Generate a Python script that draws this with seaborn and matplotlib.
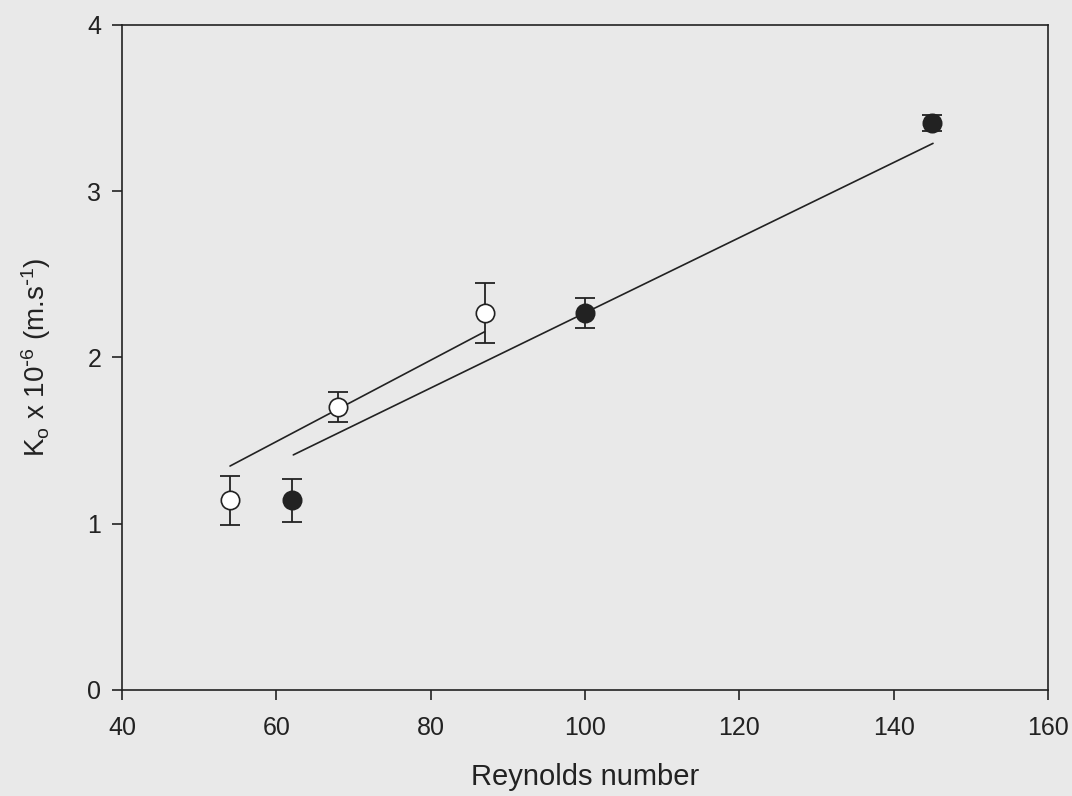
import numpy as np
import matplotlib
matplotlib.use("Agg")
import matplotlib.pyplot as plt
import seaborn as sns
import pandas as pd

# open circles
open_re = [54, 68, 87]
open_k = [1.14, 1.70, 2.27]
open_err = [0.15, 0.09, 0.18]
open_fit_re = [54, 87]
open_fit_k = [1.347, 2.155]

# filled circles
filled_re = [62, 100, 145]
filled_k = [1.14, 2.27, 3.41]
filled_err = [0.13, 0.09, 0.05]
filled_fit_re = [62.2, 145.1]
filled_fit_k = [1.414, 3.288]

xticks = [40, 60, 80, 100, 120, 140, 160]
yticks = [0, 1, 2, 3, 4]

sns.set_style("ticks")
bg = "#e9e9e9"
ink = "#222222"
plt.rcParams['font.family'] = ['Liberation Sans', 'DejaVu Sans']
plt.rcParams['mathtext.default'] = 'regular'

fig, ax = plt.subplots(figsize=(10.72, 7.96), dpi=100)
fig.patch.set_facecolor(bg)
ax.set_facecolor(bg)
fig.subplots_adjust(left=0.1138, right=0.9776, top=0.9686, bottom=0.1332)

fits = pd.DataFrame({
    're': open_fit_re + filled_fit_re,
    'k': open_fit_k + filled_fit_k,
    'group': ['open', 'open', 'filled', 'filled'],
})
sns.lineplot(data=fits, x='re', y='k', units='group', estimator=None,
             color=ink, linewidth=1.2, ax=ax, legend=False)

ax.errorbar(open_re, open_k, yerr=open_err, fmt='none', ecolor=ink,
            elinewidth=1.3, capsize=7, capthick=1.3, zorder=2)
ax.errorbar(filled_re, filled_k, yerr=filled_err, fmt='none', ecolor=ink,
            elinewidth=1.3, capsize=7, capthick=1.3, zorder=2)

sns.scatterplot(x=open_re, y=open_k, marker='o', s=175, facecolor='white',
                edgecolor=ink, linewidth=1.2, ax=ax, zorder=3)
sns.scatterplot(x=filled_re, y=filled_k, marker='o', s=175, color=ink,
                edgecolor=ink, linewidth=1.2, ax=ax, zorder=3)

ax.set_xlim(40, 160)
ax.set_ylim(0, 4)
ax.set_xticks(xticks)
ax.set_yticks(yticks)
ax.tick_params(direction='out', length=7, width=1.2, colors=ink,
               labelsize=18)
ax.tick_params(axis='x', pad=12)
ax.tick_params(axis='y', pad=8)
for s in ax.spines.values():
    s.set_color(ink)
    s.set_linewidth(1.2)

ax.set_xlabel('Reynolds number', fontsize=21, color=ink, labelpad=16)
ax.set_ylabel(r'K$_o$ x 10$^{\text{-}6}$ (m.s$^{\text{-}1}$)', fontsize=20,
              color=ink)
ax.yaxis.set_label_coords(-0.074, 0.5)

fig.savefig('out.png', dpi=100, facecolor=bg)
